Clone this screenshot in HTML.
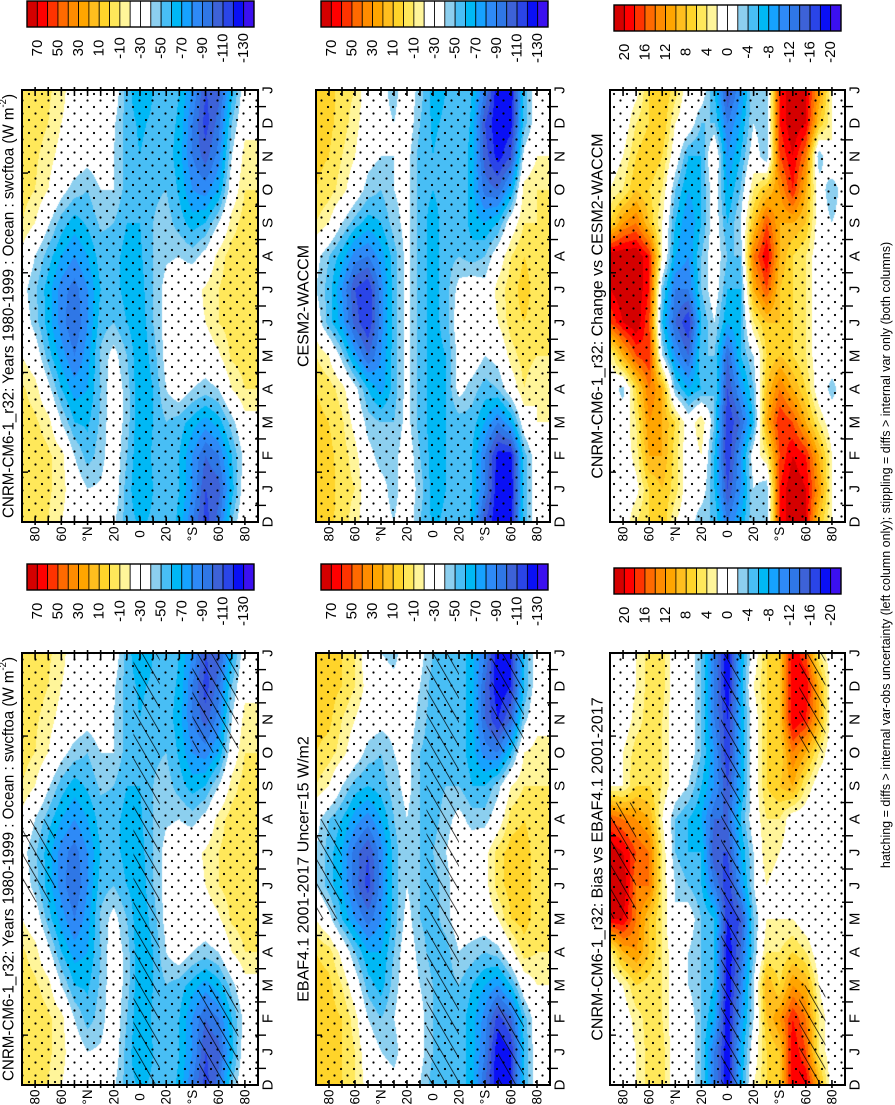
<!DOCTYPE html>
<html><head><meta charset="utf-8">
<style>
html,body{margin:0;padding:0;background:#fff;}
#wrap{position:relative;width:895px;height:1105px;overflow:hidden;font-family:"Liberation Sans",sans-serif;}
canvas{position:absolute;}
svg{position:absolute;left:0;top:0;}
</style></head>
<body>
<div id="wrap">
<svg id="ov" width="895" height="1105">
<defs>
<pattern id="dots" width="13" height="13" patternUnits="userSpaceOnUse">
<circle cx="3" cy="3" r="1.1" fill="#000"/><circle cx="9.5" cy="9.5" r="1.1" fill="#000"/>
</pattern>
<pattern id="hatch" width="12" height="12" patternUnits="userSpaceOnUse" patternTransform="rotate(-30)">
<line x1="0" y1="0" x2="0" y2="12" stroke="#000" stroke-width="1.4"/>
</pattern>
</defs>
</svg>
</div>
<script>
// ---- data ----
const latitudes = [90,80,70,60,50,40,30,20,10,0,-10,-20,-30,-40,-50,-60,-70,-80,-90];
const monthTickLabels = ["D","J","F","M","A","M","J","J","A","S","O","N","D","J"];
const latTickValues = [80,60,40,20,0,-20,-40,-60,-80];
const latTickLabels = ["80","60","°N","20","0","20","°S","60","80"];
const modelBarLabels = ["70","50","30","10","-10","-30","-50","-70","-90","-110","-130"];
const diffBarLabels = ["20","16","12","8","4","0","-4","-8","-12","-16","-20"];
// rows: Jan..Dec, columns: latitudes
const cnrmValues = [
[-5,-5,-8,-15,-30,-40,-38,-30,-55,-70,-60,-52,-60,-80,-110,-105,-65,-30,-30],
[-5,-5,-8,-15,-40,-55,-45,-30,-50,-70,-58,-52,-60,-80,-100,-90,-60,-35,-30],
[-5,-8,-15,-40,-60,-62,-48,-30,-45,-70,-60,-50,-55,-65,-75,-65,-45,-25,-25],
[-8,-15,-35,-60,-75,-70,-50,-30,-45,-70,-60,-40,-30,-40,-45,-40,-20,-10,-10],
[-20,-30,-55,-75,-90,-75,-48,-35,-50,-70,-55,-35,-30,-28,-30,-22,-8,-5,-5],
[-30,-45,-65,-85,-100,-80,-55,-50,-60,-68,-50,-35,-30,-25,-20,-10,-5,-5,-5],
[-35,-48,-65,-85,-95,-80,-60,-55,-65,-65,-50,-35,-30,-25,-18,-10,-5,-5,-5],
[-25,-40,-55,-70,-80,-70,-55,-55,-65,-62,-50,-42,-40,-45,-35,-15,-5,-5,-5],
[-10,-20,-38,-55,-65,-58,-48,-50,-60,-60,-50,-45,-55,-65,-60,-40,-15,-5,-5],
[-5,-10,-20,-35,-45,-50,-40,-40,-55,-60,-52,-50,-62,-80,-85,-70,-30,-10,-10],
[-5,-8,-15,-25,-30,-35,-30,-40,-55,-60,-55,-55,-65,-90,-105,-85,-40,-15,-15],
[-5,-5,-10,-20,-28,-30,-30,-38,-55,-62,-58,-55,-62,-90,-115,-95,-50,-25,-25]];
const cesmValues = [
[5,5,-5,-10,-30,-35,-45,-30,-45,-65,-60,-50,-60,-90,-130,-130,-55,-30,-30],
[5,3,-5,-15,-35,-45,-45,-30,-50,-65,-60,-50,-60,-90,-125,-125,-55,-30,-30],
[3,0,-8,-25,-45,-50,-50,-35,-55,-65,-60,-55,-55,-70,-90,-70,-30,-20,-20],
[0,-5,-15,-35,-60,-75,-55,-35,-55,-65,-60,-35,-45,-55,-50,-30,-10,-20,-20],
[-10,-20,-45,-75,-100,-80,-55,-35,-55,-65,-60,-35,-30,-40,-35,-15,-5,-10,-10],
[-30,-55,-75,-105,-120,-85,-55,-35,-55,-65,-55,-30,-25,-35,-20,-5,0,-5,-5],
[-40,-55,-80,-110,-120,-85,-55,-35,-55,-65,-55,-35,-30,-35,-15,-5,5,-5,-5],
[-35,-50,-65,-85,-90,-75,-55,-35,-55,-65,-55,-50,-55,-50,-30,-10,0,-5,-5],
[-10,-20,-40,-55,-65,-60,-45,-35,-55,-65,-55,-50,-65,-70,-60,-30,-10,-10,-10],
[0,-5,-15,-30,-45,-50,-40,-35,-55,-60,-55,-50,-65,-95,-100,-70,-15,-10,-10],
[3,0,-10,-20,-35,-40,-40,-35,-55,-60,-55,-50,-65,-105,-125,-110,-35,-20,-20],
[5,3,-5,-15,-30,-35,-40,-30,-50,-62,-58,-50,-62,-110,-130,-125,-55,-30,-30]];
const ebafValues = [
[5,5,0,-10,-30,-40,-45,-30,-35,-50,-55,-55,-65,-90,-130,-120,-60,-30,-30],
[5,5,0,-15,-40,-50,-40,-30,-35,-50,-55,-55,-65,-85,-115,-100,-55,-30,-30],
[5,3,-10,-30,-55,-65,-45,-30,-40,-50,-55,-50,-60,-70,-80,-60,-30,-20,-20],
[0,-5,-25,-50,-70,-70,-50,-30,-45,-55,-55,-40,-45,-50,-45,-25,-5,-10,-10],
[-20,-35,-60,-80,-95,-80,-55,-35,-50,-55,-45,-30,-30,-30,-20,0,5,-5,-5],
[-40,-55,-70,-95,-115,-85,-55,-40,-50,-55,-45,-30,-30,-25,-5,5,5,-5,-5],
[-40,-55,-70,-95,-110,-85,-55,-40,-50,-50,-40,-30,-30,-25,-5,5,5,-5,-5],
[-35,-50,-60,-75,-85,-70,-50,-40,-50,-55,-45,-35,-45,-45,-30,-5,0,-5,-5],
[-10,-20,-40,-55,-60,-55,-45,-35,-50,-55,-50,-50,-60,-60,-45,-20,-10,-10,-10],
[0,-5,-15,-30,-45,-50,-40,-35,-50,-55,-50,-55,-65,-85,-90,-60,-20,-15,-15],
[5,3,-10,-20,-30,-35,-35,-30,-45,-55,-55,-55,-65,-100,-120,-100,-45,-25,-25],
[5,5,0,-10,-25,-30,-35,-30,-40,-55,-55,-55,-65,-100,-130,-120,-60,-30,-30]];
const changeValues = [
[0,0,1,6,8,5,0,0,-6,-16,-10,-2,-4,18,22,20,12,2,0],
[0,0,3,10,10,5,0,2,-6,-18,-10,0,4,16,20,18,10,2,0],
[0,0,4,12,10,6,0,4,-4,-18,-14,-6,10,18,16,10,4,0,0],
[0,-3,6,14,10,-4,-8,-6,-4,-16,-10,-4,8,14,10,6,0,-3,0],
[2,10,16,18,-2,-10,-14,-4,-4,-14,-6,-2,6,8,6,4,0,0,0],
[16,20,22,16,-6,-14,-18,-6,-2,-8,-6,4,8,8,6,4,0,0,0],
[20,22,22,18,-4,-12,-12,-4,0,-6,-6,10,16,8,6,4,0,0,0],
[22,22,22,18,2,-8,-10,-4,0,-4,-4,14,20,10,6,4,0,-2,0],
[6,12,14,8,2,-6,-10,-6,0,-6,-2,8,16,10,10,8,0,-2,0],
[2,4,8,6,4,-4,-8,-6,0,-8,-4,4,8,12,18,10,0,-4,0],
[0,2,6,8,6,0,-6,-6,2,-10,-6,0,-4,16,20,14,-4,2,0],
[0,0,4,6,8,2,0,-4,-4,-12,-8,-2,-4,18,22,20,8,2,0]];
const biasValues = [
[0,0,2,5,5,0,0,-4,-12,-20,-8,0,6,8,20,16,4,0,0],
[0,0,3,5,4,0,0,-4,-8,-20,-10,-2,8,12,18,14,4,0,0],
[0,2,6,5,4,0,-2,-4,-6,-20,-12,-2,10,6,12,10,2,-2,0],
[3,10,12,8,4,0,-2,-4,-6,-20,-14,-4,4,4,6,4,0,-2,0],
[20,20,14,8,4,-2,0,-4,-6,-18,-16,-4,2,2,2,0,0,0,0],
[22,22,14,14,4,-2,-4,-6,-12,-18,-10,-2,2,0,0,0,0,0,0],
[22,20,16,14,4,-4,-6,-6,-16,-16,-8,-2,4,2,0,-2,0,0,0],
[16,14,12,10,2,-4,-6,-8,-14,-14,-6,0,4,4,0,0,-2,0,0],
[2,2,6,6,4,0,-2,-6,-10,-16,-8,0,6,8,10,4,0,0,0],
[0,2,5,5,4,0,0,-4,-10,-18,-8,0,6,6,14,10,4,0,0],
[0,0,3,5,4,0,0,-4,-12,-18,-8,0,6,8,20,18,10,0,0],
[0,0,2,5,5,0,0,-4,-12,-20,-8,2,6,8,20,20,10,0,0]];
// hatch regions: [latN, latS, tStart, tEnd] with t in month-tick units (0 = D bottom, 13 = J top)
const hatchModel = [[90,65,5.5,8],[5,-15,0,13],[-45,-75,0,3],[-40,-75,10,13]];
const hatchObs = [[90,70,5,8],[5,-20,0,13],[-50,-70,0,2.5],[-45,-70,10,13]];
const hatchBias = [[90,70,5,8.5],[5,-10,0,13],[-55,-75,0,3],[-55,-75,10,13]];

const COLORS = ["#d40000","#ff0000","#ff3300","#ff6a00","#ff8c00","#ffa500","#ffbe1e","#ffd42a","#ffe85a","#fff59a","#ffffff","#ffffff","#8ccfef","#48bef5","#00b8f5","#16a2ff","#2e8af7","#2f77e6","#3d62d8","#2a45e8","#0a10f5","#3b10f0"];

const NS = "http://www.w3.org/2000/svg";
const svg = document.getElementById('ov');
const wrap = document.getElementById('wrap');
function mk(tag, attrs, parent){ const e=document.createElementNS(NS,tag); for(const k in attrs) e.setAttribute(k,attrs[k]); (parent||svg).appendChild(e); return e; }

const cols = [{x0:22,x1:258,cb:27,tx:9},{x0:316,x1:550,cb:321,tx:304},{x0:610,x1:845,cb:614,tx:598}];
const rows = [{y0:90,y1:522,cb:1},{y0:653,y1:1085,cb:564}];
const TITLE_A = "CNRM-CM6-1_r32: Years 1980-1999 : Ocean : swcftoa (W m";
const panels = [
 {c:0,r:0,data:cnrmValues,kind:"model",title:"A",hatch:null,name:"cnrm-panel"},
 {c:1,r:0,data:cesmValues,kind:"model",title:"CESM2-WACCM",hatch:null,name:"cesm-panel"},
 {c:2,r:0,data:changeValues,kind:"diff",title:"CNRM-CM6-1_r32: Change vs CESM2-WACCM",hatch:null,name:"change-panel"},
 {c:0,r:1,data:cnrmValues,kind:"model",title:"A",hatch:hatchModel,name:"cnrm-vs-obs-panel"},
 {c:1,r:1,data:ebafValues,kind:"model",title:"EBAF4.1 2001-2017 Uncer=15 W/m2",hatch:hatchObs,name:"ebaf-panel"},
 {c:2,r:1,data:biasValues,kind:"diff",title:"CNRM-CM6-1_r32: Bias vs EBAF4.1 2001-2017",hatch:hatchBias,name:"bias-panel"}];

function colorIndex(v,kind){
  let i = kind==="model" ? Math.ceil((80-v)/10) : Math.ceil((22-v)/2);
  return Math.max(1,Math.min(22,i))-1;
}
function hexRGB(h){return [parseInt(h.substr(1,2),16),parseInt(h.substr(3,2),16),parseInt(h.substr(5,2),16)];}
const RGB = COLORS.map(hexRGB);

panels.forEach((p,pi)=>{
  const C=cols[p.c], R=rows[p.r];
  const w=C.x1-C.x0, h=R.y1-R.y0;
  const xOf = lat => C.x0 + (90-lat)/180*w;
  const yOf = t => R.y1 - t/13*h;
  const cv=document.createElement('canvas');
  cv.width=w; cv.height=h; cv.style.left=C.x0+'px'; cv.style.top=R.y0+'px';
  
  
  wrap.insertBefore(cv, svg);
  const ctx=cv.getContext('2d'); const img=ctx.createImageData(w,h);
  const ext=[]; for(let k=0;k<14;k++) ext.push(p.data[(k+11)%12]);
  for(let py=0;py<h;py++){
    const t=(h-py-0.5)/h*13; let k0=Math.floor(t); if(k0>12)k0=12; const ft=t-k0;
    for(let px=0;px<w;px++){
      const g=(px+0.5)/w*18; let j0=Math.floor(g); if(j0>17)j0=17; const fg=g-j0;
      const a=ext[k0][j0]*(1-fg)+ext[k0][j0+1]*fg;
      const b=ext[k0+1][j0]*(1-fg)+ext[k0+1][j0+1]*fg;
      const v=a*(1-ft)+b*ft;
      const c=RGB[colorIndex(v,p.kind)]; const o=(py*w+px)*4;
      img.data[o]=c[0];img.data[o+1]=c[1];img.data[o+2]=c[2];img.data[o+3]=255;
    }
  }
  ctx.putImageData(img,0,0);
  const g=mk('g',{});
  
  
  const st=mk('rect',{x:C.x0,y:R.y0,width:w,height:h,fill:'url(#dots)'},g);
  
  
  if(p.hatch){ p.hatch.forEach(hr=>{
    const hx=xOf(hr[0]), hx2=xOf(hr[1]), hy=yOf(hr[3]), hy2=yOf(hr[2]);
    const r=mk('rect',{x:hx,y:hy,width:hx2-hx,height:hy2-hy,fill:'url(#hatch)'},g);
    
    
  });}
  const fr=mk('rect',{x:C.x0,y:R.y0,width:w,height:h,fill:'none',stroke:'#000','stroke-width':2},g);
  
  
  for(let lat=80;lat>=-80;lat-=10){
    const x=xOf(lat);
    mk('line',{x1:x,x2:x,y1:R.y0-3,y2:R.y0+6,stroke:'#000','stroke-width':1.6},g);
    mk('line',{x1:x,x2:x,y1:R.y1-5,y2:R.y1+3,stroke:'#000','stroke-width':1.6},g);
  }
  latTickValues.forEach((lat,i)=>{
    const x=xOf(lat), y=R.y1+12;
    const t=mk('text',{x:0,y:0,transform:`translate(${x},${y}) rotate(-90)`,'text-anchor':'middle','dominant-baseline':'central','font-size':13.5},g);
    t.textContent=latTickLabels[i];
    
    
  });
  monthTickLabels.forEach((m,k)=>{
    const y=yOf(k);
    const t=mk('text',{x:0,y:0,transform:`translate(${C.x1+10},${y}) rotate(-90)`,'text-anchor':'middle','dominant-baseline':'central','font-size':15},g);
    t.textContent=m;
    
    
    if(k<13){ const ty=yOf(k+0.5);
      mk('line',{x1:C.x1-3,x2:C.x1+8,y1:ty,y2:ty,stroke:'#000','stroke-width':1.4},g);
    }
  });
  for(let j=0;j<4;j++){ const ly=yOf(1.5+3*j);
    mk('line',{x1:C.x0,x2:C.x0+6,y1:ly,y2:ly,stroke:'#000','stroke-width':1.4},g);
  }
  const cy=(R.y0+R.y1)/2;
  const tt=mk('text',{x:0,y:0,transform:`translate(${C.tx},${cy}) rotate(-90)`,'text-anchor':'middle','dominant-baseline':'central','font-size':16},g);
  if(p.title==="A"){ tt.setAttribute('textLength','424'); tt.setAttribute('lengthAdjust','spacingAndGlyphs');
    tt.textContent=TITLE_A; const sp=document.createElementNS(NS,'tspan'); sp.setAttribute('baseline-shift','super'); sp.setAttribute('font-size','10'); sp.textContent='-2'; tt.appendChild(sp); tt.appendChild(document.createTextNode(')'));
  } else tt.textContent=p.title;
  
  
  const cbw=227/22, cbx=C.cb, cby=(p.c===2 ? R.cb+4 : R.cb);
  const cb=mk('g',{},g);
  
  
  COLORS.forEach((col,i)=>{
    const r=mk('rect',{x:cbx+i*cbw,y:cby,width:cbw,height:26,fill:col,stroke:'#000','stroke-width':0.8},cb);
    
    
  });
  mk('rect',{x:cbx,y:cby,width:227,height:26,fill:'none',stroke:'#000','stroke-width':1.4},cb);
  const labs = p.kind==="model"?modelBarLabels:diffBarLabels;
  labs.forEach((l,i)=>{
    const x=cbx+(2*i+1)*cbw;
    const t=mk('text',{x:0,y:0,transform:`translate(${x},${cby+47}) rotate(-90)`,'text-anchor':'middle','dominant-baseline':'central','font-size':15},cb);
    t.textContent=l;
    
    
  });
});
const ft=mk('text',{x:0,y:0,transform:'translate(886,555) rotate(-90)','text-anchor':'middle','dominant-baseline':'central','font-size':12.5});
ft.textContent="hatching = diffs > internal var-obs uncertainty (left column only); stippling = diffs > internal var only (both columns)";


</script>
</body></html>
